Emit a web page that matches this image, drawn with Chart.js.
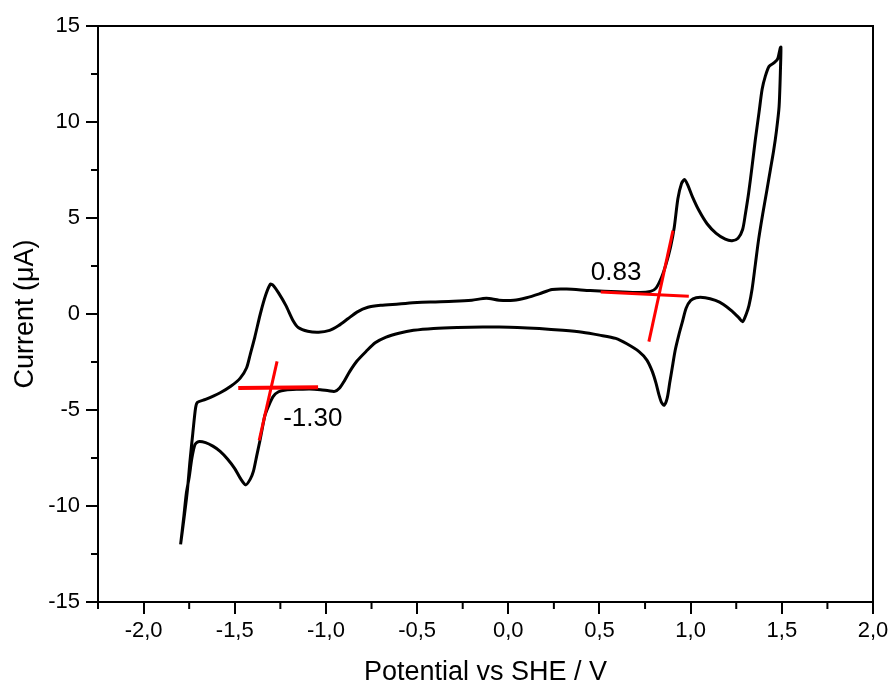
<!DOCTYPE html>
<html>
<head>
<meta charset="utf-8">
<script src="https://cdn.jsdelivr.net/npm/chart.js@4.4.1/dist/chart.umd.min.js"></script>
<style>
  html, body { margin: 0; padding: 0; background: #fff; }
</style>
</head>
<body>
<canvas id="cvChart" width="893" height="686"></canvas>
<script>
  // cyclic voltammogram, one closed loop (V vs SHE, uA)
  const potential = [
    -1.797, -1.775, -1.760, -1.745, -1.730, -1.715, -1.705, -1.660, -1.580, -1.520,
    -1.470, -1.435, -1.415, -1.390, -1.360, -1.330, -1.305, -1.290, -1.260, -1.220,
    -1.180, -1.150, -1.100, -1.040, -0.980, -0.930, -0.880, -0.830, -0.770, -0.700,
    -0.600, -0.500, -0.400, -0.300, -0.200, -0.120, -0.050, 0.030, 0.100, 0.170,
    0.240, 0.320, 0.450, 0.600, 0.720, 0.780, 0.810, 0.840, 0.865, 0.890,
    0.910, 0.930, 0.950, 0.967, 0.985, 1.010, 1.045, 1.090, 1.140, 1.190,
    1.227, 1.260, 1.285, 1.300, 1.318, 1.337, 1.355, 1.375, 1.392, 1.410,
    1.430, 1.460, 1.478, 1.490, 1.495,
    1.493, 1.485, 1.470, 1.455, 1.437, 1.419, 1.395, 1.373, 1.355, 1.337,
    1.320, 1.305, 1.285, 1.265, 1.227, 1.180, 1.136, 1.080, 1.030, 1.000,
    0.975, 0.955, 0.935, 0.915, 0.899, 0.885, 0.871, 0.855, 0.840, 0.826,
    0.810, 0.790, 0.760, 0.717, 0.650, 0.589, 0.500, 0.406, 0.300, 0.170,
    0.050, -0.050, -0.140, -0.280, -0.410, -0.520, -0.600, -0.670, -0.730, -0.780,
    -0.830, -0.870, -0.900, -0.925, -0.952, -0.985, -1.030, -1.090, -1.150,
    -1.220, -1.260, -1.290, -1.315, -1.335, -1.350, -1.362, -1.380, -1.398, -1.415,
    -1.440, -1.470, -1.500, -1.540, -1.580, -1.620, -1.660, -1.700, -1.718, -1.735,
    -1.750, -1.765, -1.780, -1.797
  ];
  const current = [
    -12.0, -10.4, -9.2, -7.6, -6.2, -4.9, -4.6, -4.45, -4.1, -3.75,
    -3.34, -2.8, -2.1, -1.2, 0.0, 1.0, 1.55, 1.5, 1.1, 0.45,
    -0.35, -0.72, -0.9, -0.95, -0.85, -0.6, -0.25, 0.1, 0.35, 0.45,
    0.52, 0.6, 0.63, 0.66, 0.72, 0.82, 0.72, 0.72, 0.85, 1.05,
    1.28, 1.3, 1.22, 1.16, 1.12, 1.18, 1.35, 1.9, 2.6, 3.5,
    4.5, 6.0, 6.8, 7.0, 6.7, 6.1, 5.4, 4.7, 4.2, 3.9,
    3.82, 3.95, 4.4, 5.2, 6.3, 7.7, 9.1, 10.5, 11.7, 12.4,
    12.9, 13.1, 13.3, 13.8, 13.9,
    12.9, 10.8, 9.5, 8.5, 7.5, 6.5, 5.2, 3.9, 2.6, 1.3,
    0.45, 0.0, -0.4, -0.2, 0.15, 0.5, 0.71, 0.85, 0.85, 0.7,
    0.3, -0.4, -1.1, -1.9, -2.8, -3.6, -4.4, -4.75, -4.6, -4.2,
    -3.6, -3.0, -2.4, -1.96, -1.55, -1.27, -1.1, -0.95, -0.85, -0.76,
    -0.7, -0.68, -0.68, -0.7, -0.75, -0.85, -1.0, -1.2, -1.5, -1.95,
    -2.45, -3.0, -3.5, -3.85, -4.03, -4.0, -3.94, -3.9, -3.92,
    -3.96, -4.05, -4.3, -4.8, -5.3, -6.0, -6.6, -7.4, -8.2, -8.6,
    -8.9, -8.55, -8.05, -7.55, -7.15, -6.88, -6.7, -6.65, -6.8, -7.5,
    -8.5, -9.3, -10.6, -12.0
  ];

  // red tangent lines (two points each)
  const tangentX = [[-1.481, -1.043], [-1.268, -1.366], [0.507, 0.990], [0.903, 0.771]];
  const tangentY = [[-3.86, -3.82], [-2.47, -6.58], [1.15, 0.92], [4.34, -1.44]];
  const tangentWidth = [4, 3, 3, 3];

  // half-wave potentials written on the plot
  const noteText = ["-1.30", "0.83"];
  const noteX = [-1.072, 0.591];
  const noteY = [-5.45, 2.15];

  const xTicks = [-2.0, -1.5, -1.0, -0.5, 0.0, 0.5, 1.0, 1.5, 2.0];
  const xMinor = [-2.25, -1.75, -1.25, -0.75, -0.25, 0.25, 0.75, 1.25, 1.75];
  const yTicks = [-15, -10, -5, 0, 5, 10, 15];
  const yMinor = [-12.5, -7.5, -2.5, 2.5, 7.5, 12.5];

  const FONT = "'Liberation Sans', Arial, sans-serif";

  const cvData = potential.map((v, i) => ({ x: v, y: current[i] }));

  const redSets = tangentX.map((xs, i) => ({
    data: xs.map((v, j) => ({ x: v, y: tangentY[i][j] })),
    borderColor: "#ff0000",
    borderWidth: tangentWidth[i],
    showLine: true,
    pointRadius: 0,
    tension: 0
  }));

  const framePlugin = {
    id: "frame",
    beforeDatasetsDraw(chart) {
      const { ctx, chartArea: a, scales: { x, y } } = chart;
      ctx.save();
      ctx.strokeStyle = "#000";
      ctx.lineWidth = 2;
      ctx.strokeRect(a.left, a.top, a.right - a.left, a.bottom - a.top);
      ctx.beginPath();
      xMinor.forEach(v => {
        const px = x.getPixelForValue(v);
        ctx.moveTo(px, a.bottom);
        ctx.lineTo(px, a.bottom + 7);
      });
      yMinor.forEach(v => {
        const py = y.getPixelForValue(v);
        ctx.moveTo(a.left, py);
        ctx.lineTo(a.left - 7, py);
      });
      ctx.stroke();
      ctx.restore();
    },
    afterDatasetsDraw(chart) {
      const { ctx, scales: { x, y } } = chart;
      ctx.save();
      ctx.fillStyle = "#000";
      ctx.font = "26px " + FONT;
      ctx.textAlign = "center";
      ctx.textBaseline = "middle";
      noteText.forEach((t, i) => {
        ctx.fillText(t, x.getPixelForValue(noteX[i]), y.getPixelForValue(noteY[i]));
      });
      ctx.restore();
    }
  };

  const ctx = document.getElementById("cvChart").getContext("2d");
  const chart = new Chart(ctx, {
    type: "scatter",
    data: {
      datasets: [
        ...redSets,
        {
          data: cvData,
          borderColor: "#000",
          borderWidth: 3,
          showLine: true,
          pointRadius: 0,
          tension: 0.25
        }
      ]
    },
    options: {
      responsive: false,
      animation: false,
      layout: { padding: { top: 26, right: 20, left: 0, bottom: 0 } },
      plugins: { legend: { display: false }, tooltip: { enabled: false } },
      scales: {
        x: {
          type: "linear",
          min: -2.25,
          max: 2.0,
          afterBuildTicks: s => { s.ticks = xTicks.map(v => ({ value: v })); },
          afterFit: s => { s.height = 84; },
          grid: { drawOnChartArea: false, tickLength: 12, color: "#000", lineWidth: 2 },
          border: { color: "#000", width: 2 },
          ticks: {
            color: "#000",
            padding: 4,
            maxRotation: 0,
            font: { family: FONT, size: 22 },
            callback: v => v.toFixed(1).replace(".", ",")
          },
          title: {
            display: true,
            text: "Potential vs SHE / V",
            color: "#000",
            font: { family: FONT, size: 27 },
            padding: { top: 0, bottom: -3 }
          }
        },
        y: {
          type: "linear",
          min: -15,
          max: 15,
          afterBuildTicks: s => { s.ticks = yTicks.map(v => ({ value: v })); },
          afterFit: s => { s.width = 98; },
          grid: { drawOnChartArea: false, tickLength: 12, color: "#000", lineWidth: 2 },
          border: { color: "#000", width: 2 },
          ticks: {
            color: "#000",
            padding: 6,
            font: { family: FONT, size: 22 },
            callback: v => String(v)
          },
          title: {
            display: true,
            text: "Current (\u03bcA)",
            color: "#000",
            font: { family: FONT, size: 27 },
            padding: { top: 9, bottom: 0 }
          }
        }
      }
    },
    plugins: [framePlugin]
  });
</script>
</body>
</html>
